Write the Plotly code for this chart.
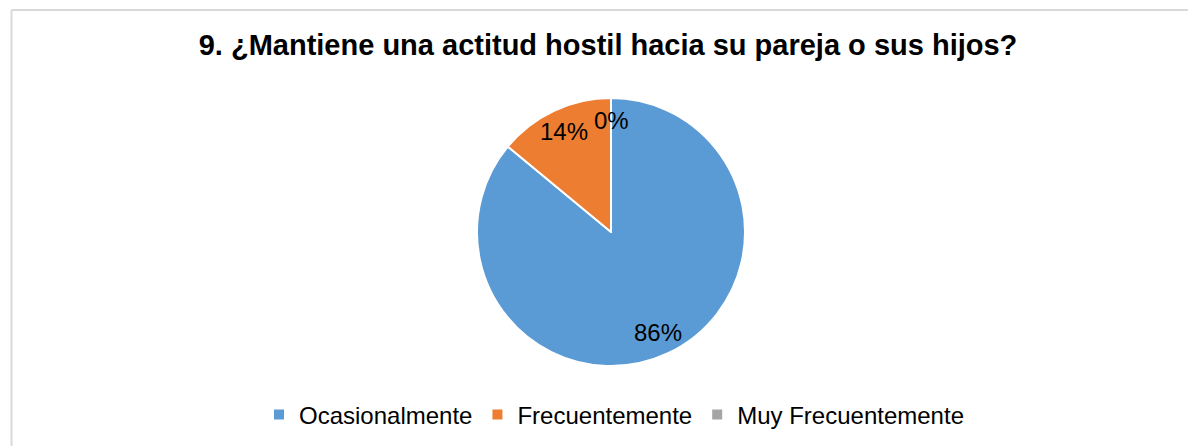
import numpy as np
import plotly.graph_objects as go

# ------ data ------
categorias = ["Ocasionalmente", "Frecuentemente", "Muy Frecuentemente"]
porcentajes = [86, 14, 0]
colores = ["#5B9BD5", "#ED7D31", "#A5A5A5"]
titulo = "9. ¿Mantiene una actitud hostil hacia su pareja o sus hijos?"

W, H = 1196, 446
OFF = 8  # page margin around the figure
cx, cy, R = 611 - OFF, 232 - OFF, 134  # pie centre / radius in figure pixels


def px_x(x):
    return (x - OFF) / W


def px_y(y):
    return (H - (y - OFF)) / H


fig = go.Figure()

fig.add_trace(go.Pie(
    labels=categorias,
    values=porcentajes,
    sort=False,
    direction="clockwise",
    rotation=0,
    textinfo="none",
    hoverinfo="label+percent",
    marker=dict(colors=colores, line=dict(color="white", width=2)),
    domain=dict(x=[(cx - R) / W, (cx + R) / W],
                y=[(H - cy - R) / H, (H - cy + R) / H]),
))

# data labels at ~0.83 R along each slice's mid angle
total = float(sum(porcentajes))
acum = np.cumsum([0] + porcentajes[:-1])
for v, a in zip(porcentajes, acum):
    ang = np.deg2rad((a + v / 2.0) / total * 360.0)
    px = cx + 0.83 * R * np.sin(ang)
    py = (H - cy) + 0.83 * R * np.cos(ang)
    fig.add_annotation(
        x=px / W, y=py / H, xref="paper", yref="paper",
        xanchor="center", yanchor="middle",
        text="%d%%" % v, showarrow=False,
        font=dict(family="Liberation Sans, Arial", size=24, color="black"),
    )

# chart area border (top and left visible)
fig.add_shape(type="line", xref="paper", yref="paper",
              x0=px_x(11.5), x1=1.0, y0=px_y(10), y1=px_y(10),
              line=dict(color="#D9D9D9", width=2))
fig.add_shape(type="line", xref="paper", yref="paper",
              x0=px_x(11.5), x1=px_x(11.5), y0=0, y1=px_y(10),
              line=dict(color="#D9D9D9", width=2))

fig.update_layout(
    width=W, height=H,
    margin=dict(l=0, r=0, t=0, b=0),
    paper_bgcolor="white",
    plot_bgcolor="white",
    title=dict(text="<b>" + titulo + "</b>", x=px_x(608), xanchor="center",
               y=px_y(45), yanchor="middle",
               font=dict(family="Liberation Sans, Arial", size=29, color="black")),
    legend=dict(orientation="h", x=px_x(614), xanchor="center",
                y=px_y(415), yanchor="middle",
                font=dict(family="Liberation Sans, Arial", size=24, color="black"),
                itemwidth=30, traceorder="normal"),
    showlegend=True,
)

fig.write_html("out.html")
